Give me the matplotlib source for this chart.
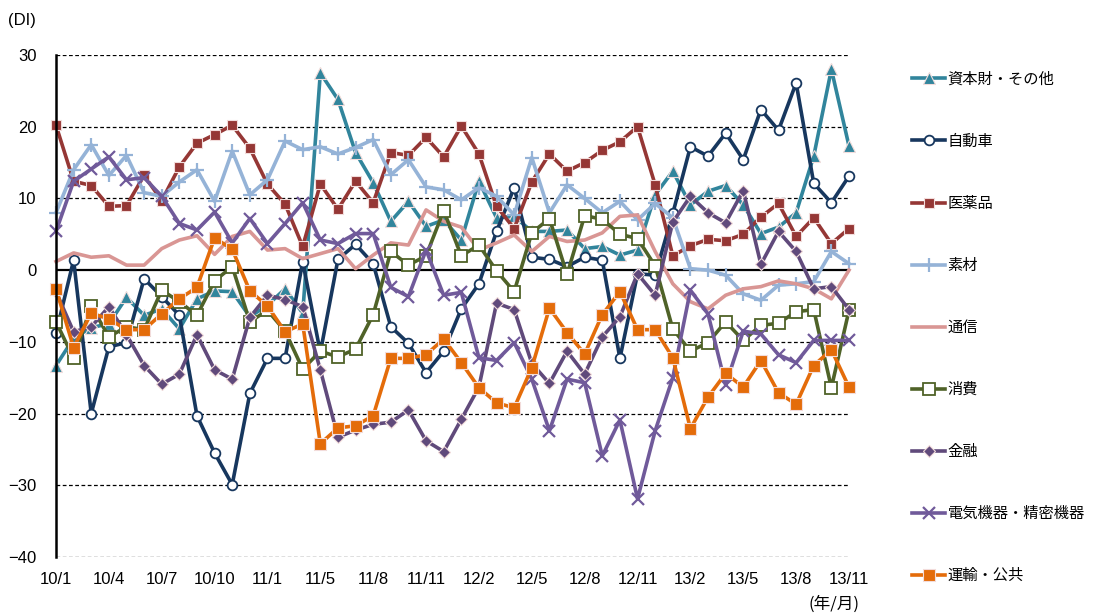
import matplotlib.pyplot as plt

plt.rcParams['font.family'] = ['Liberation Sans', 'Noto Sans CJK JP']

# months on the category axis (11/3 is not in the survey)
months = (["10/%d" % m for m in range(1, 13)]
          + ["11/1", "11/2"] + ["11/%d" % m for m in range(4, 13)]
          + ["12/%d" % m for m in range(1, 13)]
          + ["13/%d" % m for m in range(1, 12)])
tick_labels = months[::3]

series_names = ["資本財・その他", "自動車", "医薬品", "素材", "通信",
                "消費", "金融", "電気機器・精密機器", "運輸・公共"]

shihonzai = [-13.3, -9.5, -8.0, -7.5, -3.8, -6.3, -5.4, -8.2, -4.0, -2.9,
             -3.0, -6.5, -4.9, -2.6, -6.0, 27.5, 23.8, 16.4, 12.2, 6.8,
             9.6, 6.1, 7.0, 4.2, 12.4, 7.3, 7.5, 5.4, 5.4, 5.6,
             3.0, 3.3, 2.1, 2.8, 10.5, 13.8, 9.1, 11.0, 11.8, 9.1,
             5.1, 6.0, 8.0, 15.9, 28.0, 17.3]
jidosha = [-8.8, 1.4, -20.0, -10.7, -10.1, -1.2, -3.7, -6.3, -20.3, -25.5,
           -29.9, -17.2, -12.3, -12.3, 1.2, -11.5, 1.5, 3.6, 0.9, -7.9,
           -10.2, -14.3, -11.3, -5.4, -1.9, 5.4, 11.5, 1.8, 1.5, 0.5,
           1.8, 1.4, -12.3, -0.5, -0.7, 7.9, 17.2, 15.9, 19.1, 15.4,
           22.4, 19.5, 26.1, 12.1, 9.4, 13.1]
iyakuhin = [20.2, 12.4, 11.8, 8.9, 9.0, 13.2, 9.7, 14.4, 17.7, 18.9,
            20.2, 17.0, 12.0, 9.2, 3.3, 12.0, 8.5, 12.4, 9.4, 16.4,
            16.0, 18.5, 15.8, 20.1, 16.2, 8.9, 5.8, 12.3, 16.2, 13.8,
            15.0, 16.7, 17.9, 20.0, 11.9, 2.0, 3.4, 4.3, 4.1, 5.0,
            7.4, 9.3, 4.7, 7.3, 3.7, 5.8]
sozai = [8.0, 14.0, 17.5, 13.2, 16.0, 10.8, 10.3, 12.3, 14.0, 9.6,
         16.6, 10.5, 12.6, 18.0, 16.8, 17.2, 16.2, 17.1, 18.2, 13.3,
         15.4, 11.6, 11.2, 9.8, 11.5, 10.3, 7.7, 15.7, 8.0, 11.9,
         10.0, 8.0, 9.6, 7.0, 9.3, 7.3, 0.2, 0.0, -0.7, -3.3,
         -4.2, -2.1, -1.9, -1.6, 2.6, 0.9]
tsushin = [1.2, 2.4, 1.8, 2.0, 0.7, 0.7, 3.0, 4.2, 4.8, 2.2,
           4.7, 5.4, 2.8, 3.0, 1.6, 2.3, 3.0, 0.2, 2.1, 3.8,
           3.5, 8.4, 6.8, 6.0, 2.8, 3.8, 4.9, 2.6, 4.7, 4.0,
           4.2, 5.2, 7.5, 7.7, 2.6, -1.9, -4.4, -5.4, -3.5, -2.6,
           -2.3, -1.5, -1.9, -2.6, -4.0, 0.0]
shohi = [-7.2, -12.3, -5.0, -9.3, -7.9, -8.3, -2.8, -4.4, -6.3, -1.5,
         0.5, -7.2, -5.6, -8.5, -13.8, -11.3, -12.1, -11.0, -6.2, 2.6,
         0.7, 2.0, 8.3, 2.0, 3.5, -0.1, -3.0, 5.2, 7.2, -0.6,
         7.6, 7.1, 5.0, 4.4, 0.6, -8.2, -11.3, -10.1, -7.2, -9.8,
         -7.7, -7.4, -5.8, -5.5, -16.4, -5.6]
kinyu = [-3.0, -8.6, -7.9, -5.1, -9.0, -13.3, -15.9, -14.5, -9.0, -13.9,
         -15.2, -6.6, -3.5, -4.1, -5.1, -13.9, -23.3, -22.3, -21.5, -21.2,
         -19.5, -23.8, -25.3, -20.8, -16.3, -4.6, -5.5, -13.0, -15.8, -11.3,
         -14.5, -9.3, -6.5, -0.5, -3.5, 6.7, 10.3, 8.0, 6.6, 11.1,
         0.8, 5.4, 2.6, -2.6, -2.3, -5.5]
denki = [5.4, 12.4, 14.1, 15.8, 12.6, 12.9, 10.3, 6.5, 5.6, 8.1,
         3.8, 7.2, 3.7, 6.5, 9.4, 4.2, 3.7, 5.1, 5.1, -2.4,
         -3.7, 2.8, -3.5, -3.1, -12.2, -12.6, -10.1, -15.2, -22.4, -15.2,
         -15.7, -25.9, -20.9, -31.9, -22.4, -15.0, -2.8, -6.1, -16.0, -8.5,
         -8.9, -11.8, -12.9, -9.8, -9.8, -9.8]
unyu = [-2.6, -10.8, -6.0, -6.8, -8.3, -8.3, -6.1, -4.0, -2.4, 4.5,
        2.9, -2.9, -5.0, -8.6, -7.5, -24.2, -22.0, -21.7, -20.3, -12.3,
        -12.3, -11.8, -9.6, -12.9, -16.4, -18.5, -19.2, -13.6, -5.3, -8.7,
        -11.7, -6.2, -3.0, -8.3, -8.3, -12.2, -22.1, -17.7, -14.4, -16.3,
        -12.6, -17.1, -18.7, -13.3, -11.1, -16.3]

# styles: (color, marker, markersize, facecolor)
styles = [
    ("#31859C", "^", 9, "#31859C"),
    ("#17375E", "o", 7, "white"),
    ("#953735", "s", 7.5, "#953735"),
    ("#95B3D7", "+", 10, "#95B3D7"),
    ("#D99694", "", 0, "#D99694"),
    ("#4F6228", "s", 8, "white"),
    ("#604A7B", "D", 6.5, "#604A7B"),
    ("#705A9A", "x", 8, "#705A9A"),
    ("#E46C0A", "s", 8, "#E46C0A"),
]
all_series = [shihonzai, jidosha, iyakuhin, sozai, tsushin,
              shohi, kinyu, denki, unyu]

W, H = 1094, 613
fig = plt.figure(figsize=(W / 100, H / 100), dpi=100)
ax = fig.add_axes([56 / W, 1 - 557 / H, (849 - 56) / W, (557 - 55) / H])

x = list(range(len(months)))
handles = []
for name, vals, (col, mk, ms, fc) in zip(series_names, all_series, styles):
    thin = mk in ("+", "x")
    if fc == "white" or thin:
        ec = col
    else:
        ec = "#f2dcdb"
    mew = 1.3 if fc == "white" else 0.8
    if thin:
        mew = 1.6
    ln, = ax.plot(x, vals, color=col, lw=2.6, marker=mk if mk else None,
                  ms=ms, mfc=fc, mec=ec, mew=mew, clip_on=False, label=name)
    handles.append(ln)

ax.set_xlim(0, 45)
ax.set_ylim(-40, 30)
ax.set_yticks(range(-40, 31, 10))
ax.set_xticks(x[::3])
ax.set_xticklabels(tick_labels)

# grid lines, zero line solid
for yv in range(-40, 31, 10):
    if yv != 0:
        ax.axhline(yv, color="black", lw=0.9, ls=(0, (3, 2)), zorder=0)
ax.axhline(0, color="black", lw=1.6, zorder=1)

for s in ["top", "right", "bottom"]:
    ax.spines[s].set_visible(False)
ax.spines["left"].set_linewidth(1.8)
ax.tick_params(axis="y", length=0, pad=14, labelsize=12)
ax.tick_params(axis="x", length=0, pad=11, labelsize=12)

fig.text(8 / W, 1 - 20 / H, "(DI)", fontsize=12, va="center", ha="left")
fig.text(860 / W, 1 - 604 / H, "(年/月)", fontsize=12, va="center", ha="right",
         family=["Noto Sans CJK JP", "DejaVu Sans"])

fig.legend(handles=handles, loc="upper left",
           bbox_to_anchor=(898 / W, 1 - 57 / H), frameon=False,
           labelspacing=2.95, handlelength=2.2, handletextpad=0.15,
           prop={"family": ["Noto Sans CJK JP", "DejaVu Sans"], "size": 11})

fig.savefig("out.png", dpi=100)
